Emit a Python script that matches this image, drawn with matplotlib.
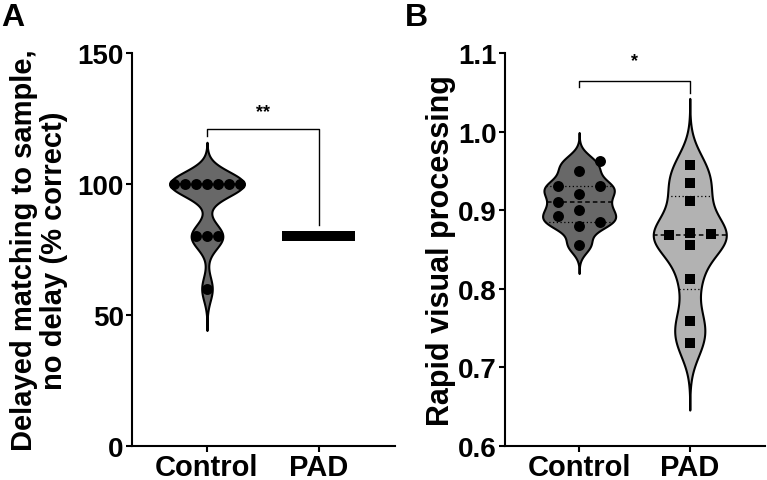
import numpy as np
import matplotlib
matplotlib.use('Agg')
import matplotlib.pyplot as plt

plt.rcParams['font.family'] = ['Liberation Sans', 'DejaVu Sans']
plt.rcParams['font.weight'] = 'bold'

# ---------------- data ----------------
categories = ['Control', 'PAD']

# Panel A: delayed matching to sample, no delay (% correct)
dms_control = [100, 100, 100, 100, 100, 100, 100, 80, 80, 80, 60]
dms_pad = [80, 80, 80, 80, 80, 80, 80, 80, 80, 80]
a_ticks = [0, 50, 100, 150]
a_sig = '**'

# Panel B: rapid visual processing
rvp_control = [0.9622, 0.9495, 0.9312, 0.9304, 0.9206, 0.9108, 0.9006,
               0.8930, 0.8854, 0.8803, 0.8561]
rvp_pad = [0.957, 0.935, 0.912, 0.871, 0.870, 0.868, 0.856, 0.813, 0.759, 0.731]
b_ticks = [0.6, 0.7, 0.8, 0.9, 1.0, 1.1]
b_sig = '*'

# scatter column slots (layout of the dot plot, -1 left / 0 centre / +1 right)
rvp_control_cols = [1, 0, 1, -1, 0, -1, 0, -1, 1, 0, 0]
rvp_pad_cols = [0, 0, 0, 0, 1, -1, 0, 0, 0, 0]

# ---------------- style ----------------
C_DARK = '#686868'
C_LIGHT = '#b2b2b2'
LW = 1.5
HALFW = 0.33


def tie_offsets(vals, step):
    vals = np.asarray(vals, float)
    off = np.zeros(len(vals))
    for u in np.unique(vals):
        idx = np.where(vals == u)[0]
        k = len(idx)
        off[idx] = (np.arange(k) - (k - 1) / 2) * step
    return off


def violin(ax, pos, vals, color):
    v = np.asarray(vals, float)
    if np.ptp(v) == 0:
        return
    n = len(v)
    bw = 0.55 * v.std(ddof=1) * n ** -0.2
    grid = np.linspace(v.min() - 3.4 * bw, v.max() + 3.4 * bw, 800)
    dens = np.exp(-0.5 * ((grid[None, :] - v[:, None]) / bw) ** 2).sum(0)
    w = dens / dens.max() * HALFW
    ax.fill_betweenx(grid, pos - w, pos + w, facecolor=color,
                     edgecolor='black', linewidth=LW, zorder=2)
    q1, med, q3 = np.percentile(v, [25, 50, 75], method='weibull')
    for q, ls, lw in [(q1, (0, (1, 2)), 0.9), (med, (0, (3, 2)), 1.1), (q3, (0, (1, 2)), 0.9)]:
        wq = np.interp(q, grid, w)
        ax.plot([pos - wq, pos + wq], [q, q], color='black', linestyle=ls,
                linewidth=lw, zorder=3)


def style_axes(ax, ylim, ticks, ticklabels):
    ax.set_xlim(-0.67, 1.68)
    ax.set_ylim(*ylim)
    ax.set_yticks(ticks)
    ax.set_yticklabels(ticklabels)
    ax.set_xticks([0, 1])
    ax.set_xticklabels(categories, fontsize=21, fontweight='bold')
    for s in ['top', 'right']:
        ax.spines[s].set_visible(False)
    for s in ['left', 'bottom']:
        ax.spines[s].set_linewidth(LW)
    ax.tick_params(axis='both', direction='out', length=4, width=LW,
                   labelsize=20, pad=2)
    ax.tick_params(axis='x', labelsize=21, pad=1)


fig = plt.figure(figsize=(7.67, 4.81), dpi=100)
axA = fig.add_axes([132 / 767, 34 / 481, 263 / 767, 393 / 481])
axB = fig.add_axes([505 / 767, 34 / 481, 260 / 767, 393 / 481])

# ---------------- panel A ----------------
violin(axA, 0, dms_control, C_DARK)
violin(axA, 1, dms_pad, C_LIGHT)
axA.scatter(0 + tie_offsets(dms_control, 0.098), dms_control, s=62, marker='o',
            color='black', zorder=4, linewidths=0)
axA.scatter(1 + tie_offsets(dms_pad, 0.0625), dms_pad, s=62, marker='s',
            color='black', zorder=4, linewidths=0)
style_axes(axA, (0, 150), a_ticks, [str(t) for t in a_ticks])
axA.set_ylabel('Delayed matching to sample,\nno delay (% correct)', fontsize=21,
               fontweight='bold', linespacing=1.1)
axA.yaxis.set_label_coords(-0.243, 0.5)
axA.plot([0, 0, 1, 1], [118.3, 121, 121, 84.4], color='black', linewidth=1.0,
         clip_on=False)
axA.text(0.5, 127.5, a_sig, ha='center', va='center', fontsize=13, fontweight='bold')

# ---------------- panel B ----------------
violin(axB, 0, rvp_control, C_DARK)
violin(axB, 1, rvp_pad, C_LIGHT)
axB.scatter(0 + np.array(rvp_control_cols) * 0.1875, rvp_control, s=62, marker='o',
            color='black', zorder=4, linewidths=0)
axB.scatter(1 + np.array(rvp_pad_cols) * 0.1875, rvp_pad, s=62, marker='s',
            color='black', zorder=4, linewidths=0)
style_axes(axB, (0.6, 1.1), b_ticks, [f'{t:.1f}' for t in b_ticks])
axB.set_ylabel('Rapid visual processing', fontsize=22, fontweight='bold')
axB.yaxis.set_label_coords(-0.19, 0.5)
axB.plot([0, 0, 1, 1], [1.0563, 1.065, 1.065, 1.0487], color='black', linewidth=1.0,
         clip_on=False)
axB.text(0.5, 1.090, b_sig, ha='center', va='center', fontsize=13, fontweight='bold')

# panel letters
fig.text(0.002, 0.993, 'A', ha='left', va='top', fontsize=23, fontweight='bold')
fig.text(405 / 767, 0.993, 'B', ha='left', va='top', fontsize=23, fontweight='bold')

fig.savefig('out.png', dpi=100)
